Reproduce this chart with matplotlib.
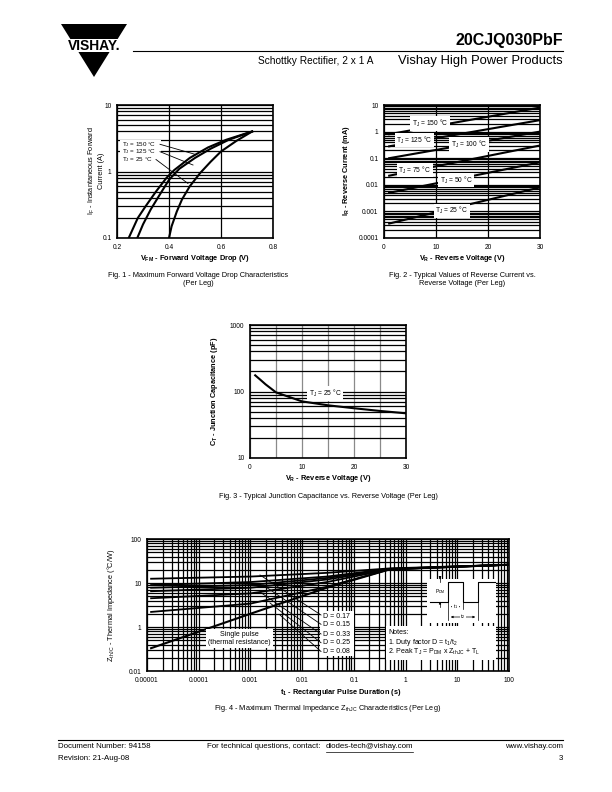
import matplotlib
matplotlib.use('Agg')
import matplotlib.pyplot as plt
from matplotlib.ticker import FixedLocator, FixedFormatter, LogLocator, NullFormatter
from matplotlib.patches import Polygon, Rectangle
from matplotlib.lines import Line2D

plt.rcParams['font.family'] = ['Liberation Sans', 'DejaVu Sans']
plt.rcParams['mathtext.fontset'] = 'custom'
plt.rcParams['mathtext.rm'] = 'Liberation Sans'
plt.rcParams['mathtext.it'] = 'Liberation Sans:italic'
plt.rcParams['mathtext.bf'] = 'Liberation Sans:bold'

# ---------------- data ----------------
# Fig 1: forward voltage drop (V) vs instantaneous forward current (A)
fig1_v_150 = [0.245, 0.28, 0.31, 0.35, 0.39, 0.42, 0.48, 0.55, 0.62, 0.72]
fig1_i_150 = [0.1, 0.2, 0.3, 0.5, 0.8, 1.05, 1.6, 2.3, 3.0, 4.0]
fig1_v_125 = [0.278, 0.30, 0.33, 0.36, 0.40, 0.44, 0.50, 0.56, 0.63, 0.72]
fig1_i_125 = [0.1, 0.16, 0.27, 0.42, 0.75, 1.1, 1.6, 2.2, 3.0, 4.0]
fig1_v_25 = [0.40, 0.41, 0.43, 0.45, 0.48, 0.52, 0.56, 0.60, 0.66, 0.72]
fig1_i_25 = [0.1, 0.15, 0.25, 0.38, 0.6, 0.95, 1.4, 2.0, 2.9, 4.0]
fig1_labels = ['T$_\\mathrm{J}$ = 150 °C', 'T$_\\mathrm{J}$ = 125 °C', 'T$_\\mathrm{J}$ = 25 °C']

# Fig 2: reverse current (mA) vs reverse voltage (V)
fig2_vr = [1, 30]
fig2_ir_150 = [0.8, 8.0]
fig2_ir_125 = [0.28, 2.7]
fig2_ir_100 = [0.1, 1.0]
fig2_ir_75 = [0.022, 0.3]
fig2_ir_50 = [0.005, 0.07]
fig2_ir_25 = [0.00035, 0.008]
fig2_labels = ['T$_\\mathrm{J}$ = 150 °C', 'T$_\\mathrm{J}$ = 125 °C', 'T$_\\mathrm{J}$ = 100 °C',
               'T$_\\mathrm{J}$ = 75 °C', 'T$_\\mathrm{J}$ = 50 °C', 'T$_\\mathrm{J}$ = 25 °C']

# Fig 3: junction capacitance (pF) vs reverse voltage (V)
fig3_vr = [1, 2, 3, 5, 10, 15, 20, 25, 30]
fig3_ct = [175, 150, 128, 97, 71, 62, 56, 51, 47]

# Fig 4: thermal impedance (degC/W) vs pulse duration (s)
fig4_t = [1.2e-5, 1e-3, 0.03, 0.5, 100]
fig4_single = [0.33, 2.0, 7.8, 20.5, 26]
fig4_d_lines = [
    [12.5, 14.0, 17.0, 21.5, 26],
    [9.0, 10.5, 14.0, 21.0, 26],
    [7.8, 9.0, 13.0, 21.0, 26],
    [6.5, 7.8, 12.0, 20.5, 26],
    [4.5, 5.8, 10.5, 20.5, 26],
    [2.2, 3.4, 8.2, 20.5, 26],
]
fig4_d_labels = ['D = 0.17', 'D = 0.15', 'D = 0.33', 'D = 0.25', 'D = 0.08']
fig4_xticks = [1e-5, 1e-4, 1e-3, 1e-2, 1e-1, 1, 10, 100]
fig4_xlabels = ['0.00001', '0.0001', '0.001', '0.01', '0.1', '1', '10', '100']
fig4_yticks = [0.1, 1, 10, 100]
fig4_ylabels = ['0.01', '1', '10', '100']

# ---------------- layout helpers ----------------
W, H = 612, 792
fig = plt.figure(figsize=(6.12, 7.92), dpi=100)


def X(px):
    return px / W


def Y(py):
    return 1 - py / H


def axes_px(l, t, r, b):
    return fig.add_axes([X(l), Y(b), (r - l) / W, (b - t) / H])


def ftext(px, py, s, **kw):
    kw.setdefault('va', 'center')
    return fig.text(X(px), Y(py), s, **kw)


def fline(xs, ys, **kw):
    kw.setdefault('color', 'black')
    kw.setdefault('lw', 0.6)
    fig.add_artist(Line2D([X(v) for v in xs], [Y(v) for v in ys], **kw))


def frect(x0, y0, x1, y1):
    fig.add_artist(Rectangle((X(x0), Y(y1)), X(x1) - X(x0), Y(y0) - Y(y1), fc='white', ec='none'))


def style_axes(ax):
    for s in ax.spines.values():
        s.set_linewidth(1.2)
    ax.tick_params(which='both', length=0, labelsize=4.8, pad=4)


GRID = dict(color='black', lw=0.9)
CURVE = dict(color='black', lw=1.5)
LBL = 5.3
FOOT = 5.7

# ---------------- header / footer ----------------
fig.add_artist(Polygon([(X(61), Y(24)), (X(127), Y(24)), (X(94), Y(77))],
                       closed=True, fc='black', ec='none'))
frect(55, 39, 135, 52)
ftext(94, 45.5, 'VISHAY.', ha='center', fontsize=10, weight='bold')

ftext(563, 41, '20CJQ030PbF', ha='right', fontsize=11.5, weight='bold')
fline([133, 563], [51, 51], lw=0.8)
ftext(373, 61, 'Schottky Rectifier, 2 x 1 A', ha='right', fontsize=7.3)
ftext(563, 61, 'Vishay High Power Products', ha='right', fontsize=9.4)

fline([58, 563], [740, 740], lw=0.8)
ftext(58, 747, 'Document Number: 94158', fontsize=FOOT)
ftext(58, 759, 'Revision: 21-Aug-08', fontsize=FOOT)
ftext(207, 747, 'For technical questions, contact:', fontsize=FOOT)
ftext(326, 747, 'diodes-tech@vishay.com', fontsize=FOOT)
fline([326, 413], [751.5, 751.5], lw=0.5)
ftext(563, 747, 'www.vishay.com', ha='right', fontsize=FOOT)
ftext(563, 759, '3', ha='right', fontsize=FOOT)

# ---------------- Fig 1 ----------------
ax1 = axes_px(117, 105, 273, 238)
ax1.set_yscale('log')
ax1.set_xlim(0.2, 0.8)
ax1.set_ylim(0.1, 10)
ax1.xaxis.set_major_locator(FixedLocator([0.2, 0.4, 0.6, 0.8]))
ax1.xaxis.set_major_formatter(FixedFormatter(['0.2', '0.4', '0.6', '0.8']))
ax1.yaxis.set_major_locator(FixedLocator([0.1, 1, 10]))
ax1.yaxis.set_major_formatter(FixedFormatter(['0.1', '1', '10']))
ax1.yaxis.set_minor_locator(LogLocator(subs=range(2, 10)))
ax1.yaxis.set_minor_formatter(NullFormatter())
ax1.grid(True, axis='x', which='major', **GRID)
ax1.grid(True, axis='y', which='both', **GRID)
style_axes(ax1)
ax1.plot(fig1_v_150, fig1_i_150, **CURVE)
ax1.plot(fig1_v_125, fig1_i_125, **CURVE)
ax1.plot(fig1_v_25, fig1_i_25, **CURVE)
frect(120, 139.5, 161, 163.5)
for py, lab in zip([144.2, 151.8, 159.2], fig1_labels):
    ftext(122.5, py, lab, fontsize=4.5)
fline([160, 195], [144.3, 154.3])
fline([160, 193], [151.7, 165])
fline([156, 188], [159.5, 183.5])
ftext(195, 259, 'V$_{\\mathbf{FM}}$ - Forward Voltage Drop (V)', ha='center', fontsize=LBL, weight='bold')
ftext(96, 171, 'I$_\\mathrm{F}$ - Instantaneous Forward\nCurrent (A)', ha='center', rotation=90,
      fontsize=LBL, multialignment='center', linespacing=1.3)
ftext(198, 279.5, 'Fig. 1 - Maximum Forward Voltage Drop Characteristics\n(Per Leg)', ha='center',
      fontsize=5.3, linespacing=1.25)

# ---------------- Fig 2 ----------------
ax2 = axes_px(384, 105, 540, 238)
ax2.set_yscale('log')
ax2.set_xlim(0, 30)
ax2.set_ylim(1e-4, 10)
ax2.xaxis.set_major_locator(FixedLocator([0, 10, 20, 30]))
ax2.xaxis.set_major_formatter(FixedFormatter(['0', '10', '20', '30']))
ax2.yaxis.set_major_locator(FixedLocator([1e-4, 1e-3, 1e-2, 0.1, 1, 10]))
ax2.yaxis.set_major_formatter(FixedFormatter(['0.0001', '0.001', '0.01', '0.1', '1', '10']))
ax2.yaxis.set_minor_locator(LogLocator(subs=range(2, 10)))
ax2.yaxis.set_minor_formatter(NullFormatter())
ax2.grid(True, axis='x', which='major', **GRID)
ax2.grid(True, axis='y', which='both', **GRID)
style_axes(ax2)
for ir in [fig2_ir_150, fig2_ir_125, fig2_ir_100, fig2_ir_75, fig2_ir_50, fig2_ir_25]:
    ax2.plot(fig2_vr, ir, **CURVE)
for (xv, yv, lab) in zip([5.3, 2.4, 12.9, 2.75, 10.8, 9.9],
                         [2.0, 0.48, 0.33, 0.036, 0.015, 0.00105], fig2_labels):
    ax2.text(xv, yv, lab, fontsize=4.8, va='center',
             bbox=dict(fc='white', ec='none', pad=1.2), zorder=5)
ftext(462, 259, 'V$_{\\mathbf{R}}$ - Reverse Voltage (V)', ha='center', fontsize=LBL, weight='bold')
ftext(347, 171, 'I$_{\\mathbf{R}}$ - Reverse Current (mA)', ha='center', rotation=90,
      fontsize=LBL, weight='bold')
ftext(462, 279.5, 'Fig. 2 - Typical Values of Reverse Current vs.\nReverse Voltage (Per Leg)', ha='center',
      fontsize=5.3, linespacing=1.25)

# ---------------- Fig 3 ----------------
ax3 = axes_px(250, 325, 406, 458)
ax3.set_yscale('log')
ax3.set_xlim(0, 30)
ax3.set_ylim(10, 1000)
ax3.xaxis.set_major_locator(FixedLocator([0, 10, 20, 30]))
ax3.xaxis.set_major_formatter(FixedFormatter(['0', '10', '20', '30']))
ax3.xaxis.set_minor_locator(FixedLocator([5, 15, 25]))
ax3.yaxis.set_major_locator(FixedLocator([10, 100, 1000]))
ax3.yaxis.set_major_formatter(FixedFormatter(['10', '100', '1000']))
ax3.yaxis.set_minor_locator(LogLocator(subs=range(2, 10)))
ax3.yaxis.set_minor_formatter(NullFormatter())
ax3.grid(True, axis='x', which='both', color='#8a8a8a', lw=0.9)
ax3.grid(True, axis='y', which='both', **GRID)
style_axes(ax3)
ax3.plot(fig3_vr, fig3_ct, **CURVE)
ax3.text(14.4, 94, 'T$_\\mathrm{J}$ = 25 °C', fontsize=4.8, va='center', ha='center',
         bbox=dict(fc='white', ec='none', pad=1.2), zorder=5)
ftext(328, 479, 'V$_{\\mathbf{R}}$ - Reverse Voltage (V)', ha='center', fontsize=LBL, weight='bold')
ftext(214, 391, 'C$_{\\mathbf{T}}$ - Junction Capacitance (pF)', ha='center', rotation=90,
      fontsize=LBL, weight='bold')
ftext(328, 497, 'Fig. 3 - Typical Junction Capacitance vs. Reverse Voltage (Per Leg)', ha='center',
      fontsize=5.3)

# ---------------- Fig 4 ----------------
ax4 = axes_px(147, 539, 509, 671)
ax4.set_xscale('log')
ax4.set_yscale('log')
ax4.set_xlim(1e-5, 100)
ax4.set_ylim(0.1, 100)
ax4.xaxis.set_major_locator(FixedLocator(fig4_xticks))
ax4.xaxis.set_major_formatter(FixedFormatter(fig4_xlabels))
ax4.xaxis.set_minor_locator(LogLocator(subs=range(2, 10), numticks=20))
ax4.xaxis.set_minor_formatter(NullFormatter())
ax4.yaxis.set_major_locator(FixedLocator(fig4_yticks))
ax4.yaxis.set_major_formatter(FixedFormatter(fig4_ylabels))
ax4.yaxis.set_minor_locator(LogLocator(subs=range(2, 10), numticks=20))
ax4.yaxis.set_minor_formatter(NullFormatter())
ax4.grid(True, which='both', **GRID)
style_axes(ax4)
for zd in fig4_d_lines:
    ax4.plot(fig4_t, zd, color='black', lw=1.3)
ax4.plot(fig4_t, fig4_single, color='black', lw=1.5)
ax4.text(6.2e-4, 0.55, 'Single pulse\n(thermal resistance)', fontsize=5.0, va='center', ha='center',
         multialignment='center', bbox=dict(fc='white', ec='none', pad=1.5), zorder=5)

# D labels box and leaders
frect(320, 611, 354, 656)
for py, lab in zip([616, 624.5, 634, 643, 651.5], fig4_d_labels):
    ftext(323, py, lab, fontsize=5.0)
for (x0, y0, y1) in [(260, 575, 615), (263, 585, 624.3), (260, 592, 634), (270, 603, 642.7), (280, 615, 651.5)]:
    fline([x0, 321], [y0, y1], lw=0.6)

# notes & pulse diagram boxes
frect(427, 579, 496, 623)
frect(386, 626, 496, 660)
fline([430, 448, 448, 463, 463, 478, 478, 495], [601.7, 601.7, 581.7, 581.7, 601.7, 601.7, 581.7, 581.7], lw=0.8)
fline([448, 448], [601.7, 620], lw=0.5)
fline([478, 478], [601.7, 620], lw=0.5)
fline([463, 463], [601.7, 609], lw=0.5)
for (xa, xb, yy) in [(448, 463, 606.7), (448, 478, 617)]:
    fig.add_artist(plt.annotate('', xy=(X(xa), Y(yy)), xytext=(X(xb), Y(yy)), xycoords='figure fraction',
                                textcoords='figure fraction',
                                arrowprops=dict(arrowstyle='<|-|>', lw=0.5, mutation_scale=3, color='black')))
ftext(455.5, 606.7, 't$_1$', ha='center', fontsize=3.8, bbox=dict(fc='white', ec='none', pad=0.3))
ftext(463, 617, 't$_2$', ha='center', fontsize=3.8, bbox=dict(fc='white', ec='none', pad=0.3))
fline([440, 440], [576, 581.7], lw=0.5)
fline([440, 440], [601.7, 607], lw=0.5)
fig.add_artist(plt.annotate('', xy=(X(440), Y(581.7)), xytext=(X(440), Y(576)), xycoords='figure fraction',
                            textcoords='figure fraction',
                            arrowprops=dict(arrowstyle='-|>', lw=0.5, mutation_scale=3, color='black')))
fig.add_artist(plt.annotate('', xy=(X(440), Y(601.7)), xytext=(X(440), Y(607)), xycoords='figure fraction',
                            textcoords='figure fraction',
                            arrowprops=dict(arrowstyle='-|>', lw=0.5, mutation_scale=3, color='black')))
ftext(440, 591.7, 'P$_\\mathrm{DM}$', ha='center', fontsize=3.6)
ftext(388, 633, 'Notes:', fontsize=5.0)
ftext(388, 642.3, '1. Duty factor D = t$_1$/t$_2$', fontsize=5.0)
ftext(388, 651.7, '2. Peak T$_\\mathrm{J}$ = P$_\\mathrm{DM}$ x Z$_\\mathrm{thJC}$ + T$_\\mathrm{L}$', fontsize=5.0)

ftext(341, 693, 't$_{\\mathbf{1}}$ - Rectangular Pulse Duration (s)', ha='center', fontsize=LBL, weight='bold')
ftext(111, 605, 'Z$_\\mathrm{thJC}$ - Thermal Impedance (°C/W)', ha='center', rotation=90, fontsize=LBL)
ftext(328, 709, 'Fig. 4 - Maximum Thermal Impedance Z$_\\mathrm{thJC}$ Characteristics (Per Leg)',
      ha='center', fontsize=5.3)

fig.savefig('out.png', dpi=100)
